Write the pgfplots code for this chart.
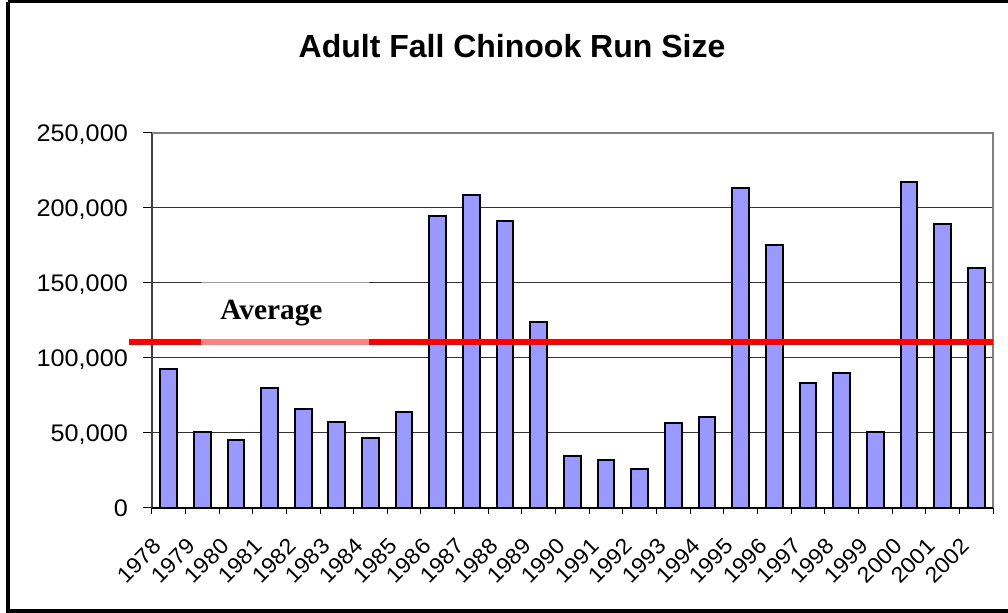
\documentclass[border=0pt]{standalone}
\usepackage{fontspec}
\setmainfont{Liberation Sans}
\newfontfamily\ticksans{Liberation Sans}[FakeStretch=1.05]
\newfontfamily\tnr{Liberation Serif}
\usepackage{pgfplots}
\pgfplotsset{compat=1.18}
\definecolor{barblue}{HTML}{9999FF}
\begin{document}
\begin{tikzpicture}
\begin{axis}[
  at={(113.8pt,79.0pt)}, anchor=south west,
  scale only axis, width=631pt, height=281.25pt,
  xmin=-0.5, xmax=24.5, ymin=0, ymax=250000,
  clip=false,
  axis line style={draw=none},
  ytick={0,50000,100000,150000,200000,250000},
  scaled y ticks=false,
  /pgf/number format/.cd, fixed, 1000 sep={,}, assume math mode=true,
  /pgfplots/.cd,
  tick align=outside, tick pos=left,
  major tick length=6.75pt,
  ytick style={black, line width=0.75pt},
  yticklabel style={font=\ticksans\fontsize{18pt}{19pt}\selectfont, anchor=base east, inner sep=0pt, xshift=-11pt, yshift=-6.4pt},
  xtick={0,...,24},
  xticklabels={1978,1979,1980,1981,1982,1983,1984,1985,1986,1987,1988,1989,1990,1991,1992,1993,1994,1995,1996,1997,1998,1999,2000,2001,2002},
  xtick style={draw=none},
  xticklabel style={font=\ticksans\fontsize{16.5pt}{17pt}\selectfont, xshift=-12.4pt, yshift=-15pt, anchor=north east, inner sep=0pt, rotate=45},
  extra x ticks={-0.5,0.5,1.5,2.5,3.5,4.5,5.5,6.5,7.5,8.5,9.5,10.5,11.5,12.5,13.5,14.5,15.5,16.5,17.5,18.5,19.5,20.5,21.5,22.5,23.5,24.5},
  extra x tick labels={},
  extra x tick style={xtick style={draw=black, line width=0.75pt}, major tick length=5pt},
  ymajorgrids,
  major grid style={black!80, line width=0.75pt},
]
\addplot[ybar, bar width=12.5pt, fill=barblue, draw=black, line width=1.5pt] coordinates {
(0,92200) (1,50400) (2,45100) (3,79600) (4,66000) (5,56900) (6,46400) (7,63800)
(8,194600) (9,208600) (10,191100) (11,124000) (12,34600) (13,32000) (14,25800)
(15,56400) (16,60400) (17,213300) (18,175100) (19,82900) (20,89800) (21,50400)
(22,217300) (23,189300) (24,160000)};
\draw[black!75, line width=1.5pt] (rel axis cs:0,0) -- (rel axis cs:0,1);
\draw[gray, line width=1.5pt] (rel axis cs:0,1) -- (rel axis cs:1,1) -- (rel axis cs:1,0);
\draw[black, line width=1.5pt] (rel axis cs:0,0) -- (rel axis cs:1,0);
\addplot[red, line width=4.5pt] coordinates {(-1.175,110300) (24.5,110300)};
\end{axis}
\fill[white, opacity=0.5] (150.75pt,200.25pt) rectangle (276.75pt,249pt);
\node[anchor=base, inner sep=0pt, font=\tnr\bfseries\fontsize{22pt}{24pt}\selectfont] at (203.6pt,219.75pt) {Average};
\node[font=\bfseries\fontsize{24pt}{26pt}\selectfont, inner sep=0pt] at (384pt,425.25pt) {Adult Fall Chinook Run Size};
\draw[black, line width=3.2pt] (760pt,1.6pt) -- (6.2pt,1.6pt) -- (6.2pt,458.5pt);
\draw[black, line width=2pt] (6.2pt,458.5pt) -- (760pt,458.5pt);
\pgfresetboundingbox
\useasboundingbox (0,0) rectangle (756pt,459.75pt);
\end{tikzpicture}
\end{document}
